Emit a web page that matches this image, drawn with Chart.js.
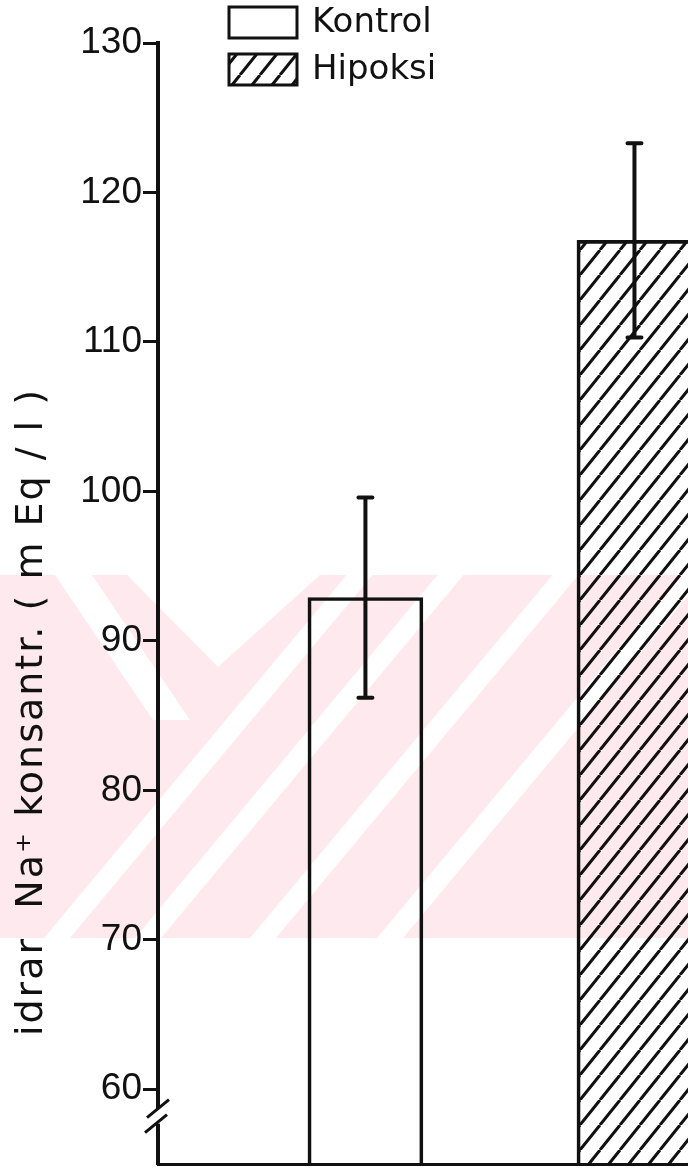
<!DOCTYPE html>
<html>
<head>
<meta charset="utf-8">
<script src="https://cdn.jsdelivr.net/npm/chart.js"></script>
<style>
    html, body { margin: 0; padding: 0; background: #fff; overflow: hidden; }
    #wrap { width: 688px; height: 1176px; }
</style>
</head>
<body>
<div id="wrap"><canvas id="naChart" width="688" height="1176"></canvas></div>
<script>
// data
var groups = ['Kontrol', 'Hipoksi'];
var groupPos = [1, 2];
var naMean = [92.9, 116.8];
var naErr = [6.7, 6.5];
var yTicks = [60, 70, 80, 90, 100, 110, 120, 130];
var yTitle = 'idrar  Na\u207A konsantr. ( m Eq / l )';

var INK = '#111';

function hatchPattern(ctx) {
    var c = document.createElement('canvas');
    c.width = 20;
    c.height = 25;
    var x = c.getContext('2d');
    x.strokeStyle = INK;
    x.lineWidth = 3;
    x.beginPath();
    [-20, 0, 20].forEach(function (o) {
        x.moveTo(o, 25);
        x.lineTo(o + 20, 0);
    });
    x.stroke();
    return ctx.createPattern(c, 'repeat');
}

var canvas = document.getElementById('naChart');
var ctx0 = canvas.getContext('2d');
var fills = ['rgba(0,0,0,0)', hatchPattern(ctx0)];

// faint pink watermark of the scanned page
var watermark = {
    id: 'watermark',
    beforeDraw: function (chart) {
        var ctx = chart.ctx;
        var top = 575, bot = 938;
        ctx.save();
        ctx.fillStyle = '#fff';
        ctx.fillRect(0, 0, chart.width, chart.height);
        ctx.fillStyle = '#fde9ee';
        ctx.fillRect(0, top, chart.width, bot - top);
        ctx.fillStyle = '#fff';
        // V notch
        ctx.beginPath();
        ctx.moveTo(127, top); ctx.lineTo(320, top); ctx.lineTo(218, 667);
        ctx.closePath(); ctx.fill();
        // "\" stripe on the left
        ctx.beginPath();
        ctx.moveTo(55, top); ctx.lineTo(92, top); ctx.lineTo(190, 720); ctx.lineTo(153, 720);
        ctx.closePath(); ctx.fill();
        // "/" stripes
        [44, 135, 250, 377].forEach(function (x0) {
            var dx = (bot - top) / 1.2;
            ctx.beginPath();
            ctx.moveTo(x0, bot); ctx.lineTo(x0 + 26, bot);
            ctx.lineTo(x0 + 26 + dx, top); ctx.lineTo(x0 + dx, top);
            ctx.closePath(); ctx.fill();
        });
        ctx.restore();
    }
};

var errorBars = {
    id: 'errorBars',
    afterDatasetsDraw: function (chart) {
        var ctx = chart.ctx, y = chart.scales.y;
        chart.data.datasets.forEach(function (ds, i) {
            var bar = chart.getDatasetMeta(i).data[0];
            var top = y.getPixelForValue(naMean[i] + naErr[i]);
            var bot = y.getPixelForValue(naMean[i] - naErr[i]);
            ctx.save();
            ctx.strokeStyle = INK;
            ctx.lineWidth = 4;
            ctx.lineCap = 'round';
            ctx.beginPath();
            ctx.moveTo(bar.x, top); ctx.lineTo(bar.x, bot);
            ctx.moveTo(bar.x - 7, top); ctx.lineTo(bar.x + 7, top);
            ctx.moveTo(bar.x - 7, bot); ctx.lineTo(bar.x + 7, bot);
            ctx.stroke();
            ctx.restore();
        });
    }
};

// axis break, y title and legend
var extras = {
    id: 'extras',
    afterDraw: function (chart) {
        var ctx = chart.ctx, y = chart.scales.y;
        var ax = chart.chartArea.left;
        var y1 = y.getPixelForValue(58.7), y2 = y.getPixelForValue(57.7);
        ctx.save();
        ctx.fillStyle = '#fff';
        ctx.fillRect(ax - 4, y1, 8, y2 - y1);
        ctx.strokeStyle = INK;
        ctx.lineWidth = 3;
        ctx.beginPath();
        ctx.moveTo(ax - 11, y1 + 9); ctx.lineTo(ax + 11, y1 - 9);
        ctx.moveTo(ax - 13, y2 + 9); ctx.lineTo(ax + 9, y2 - 9);
        ctx.stroke();

        // y title
        ctx.translate(32, 712);
        ctx.rotate(-Math.PI / 2);
        ctx.fillStyle = INK;
        ctx.font = '38px "DejaVu Sans"';
        ctx.letterSpacing = '2px';
        ctx.textAlign = 'center';
        ctx.textBaseline = 'middle';
        ctx.fillText(yTitle, 0, 0);
        ctx.restore();

        // legend
        ctx.save();
        chart.data.datasets.forEach(function (ds, i) {
            var by = 7 + i * 47;
            ctx.fillStyle = ds.backgroundColor;
            ctx.fillRect(229, by, 68, 31);
            ctx.strokeStyle = INK;
            ctx.lineWidth = 3;
            ctx.strokeRect(229, by, 68, 31);
            ctx.fillStyle = INK;
            ctx.font = '34px "DejaVu Sans"';
            ctx.textBaseline = 'middle';
            ctx.fillText(ds.label, 312, by + 16);
        });
        ctx.restore();
    }
};

var datasets = groups.map(function (g, i) {
    return {
        label: g,
        data: [{ x: groupPos[i], y: naMean[i] }],
        backgroundColor: fills[i],
        borderColor: INK,
        borderWidth: 3,
        borderSkipped: 'bottom',
        grouped: false,
        barThickness: 115
    };
});

new Chart(ctx0, {
    type: 'bar',
    data: { datasets: datasets },
    plugins: [watermark, errorBars, extras],
    options: {
        responsive: false,
        animation: false,
        devicePixelRatio: 1,
        layout: { padding: { top: 43, bottom: 12, left: 0, right: 0 } },
        plugins: {
            legend: { display: false },
            tooltip: { enabled: false }
        },
        scales: {
            x: {
                type: 'linear',
                offset: false,
                min: 0.229,
                max: 2.199,
                ticks: { display: false },
                grid: { display: false },
                border: { display: true, color: INK, width: 3 },
                afterFit: function (s) { s.height = 0; }
            },
            y: {
                min: 55,
                max: 130,
                afterBuildTicks: function (s) {
                    s.ticks = yTicks.map(function (v) { return { value: v }; });
                },
                afterFit: function (s) {
                    s.width = 158;
                    s.paddingTop = 0;
                    s.paddingBottom = 0;
                },
                ticks: {
                    color: INK,
                    padding: 1,
                    font: { family: '"Liberation Sans"', size: 37 }
                },
                grid: {
                    drawOnChartArea: false,
                    drawTicks: true,
                    tickLength: 15,
                    tickWidth: 3,
                    tickColor: INK
                },
                border: { display: true, color: INK, width: 4 }
            }
        }
    }
});
</script>
</body>
</html>
